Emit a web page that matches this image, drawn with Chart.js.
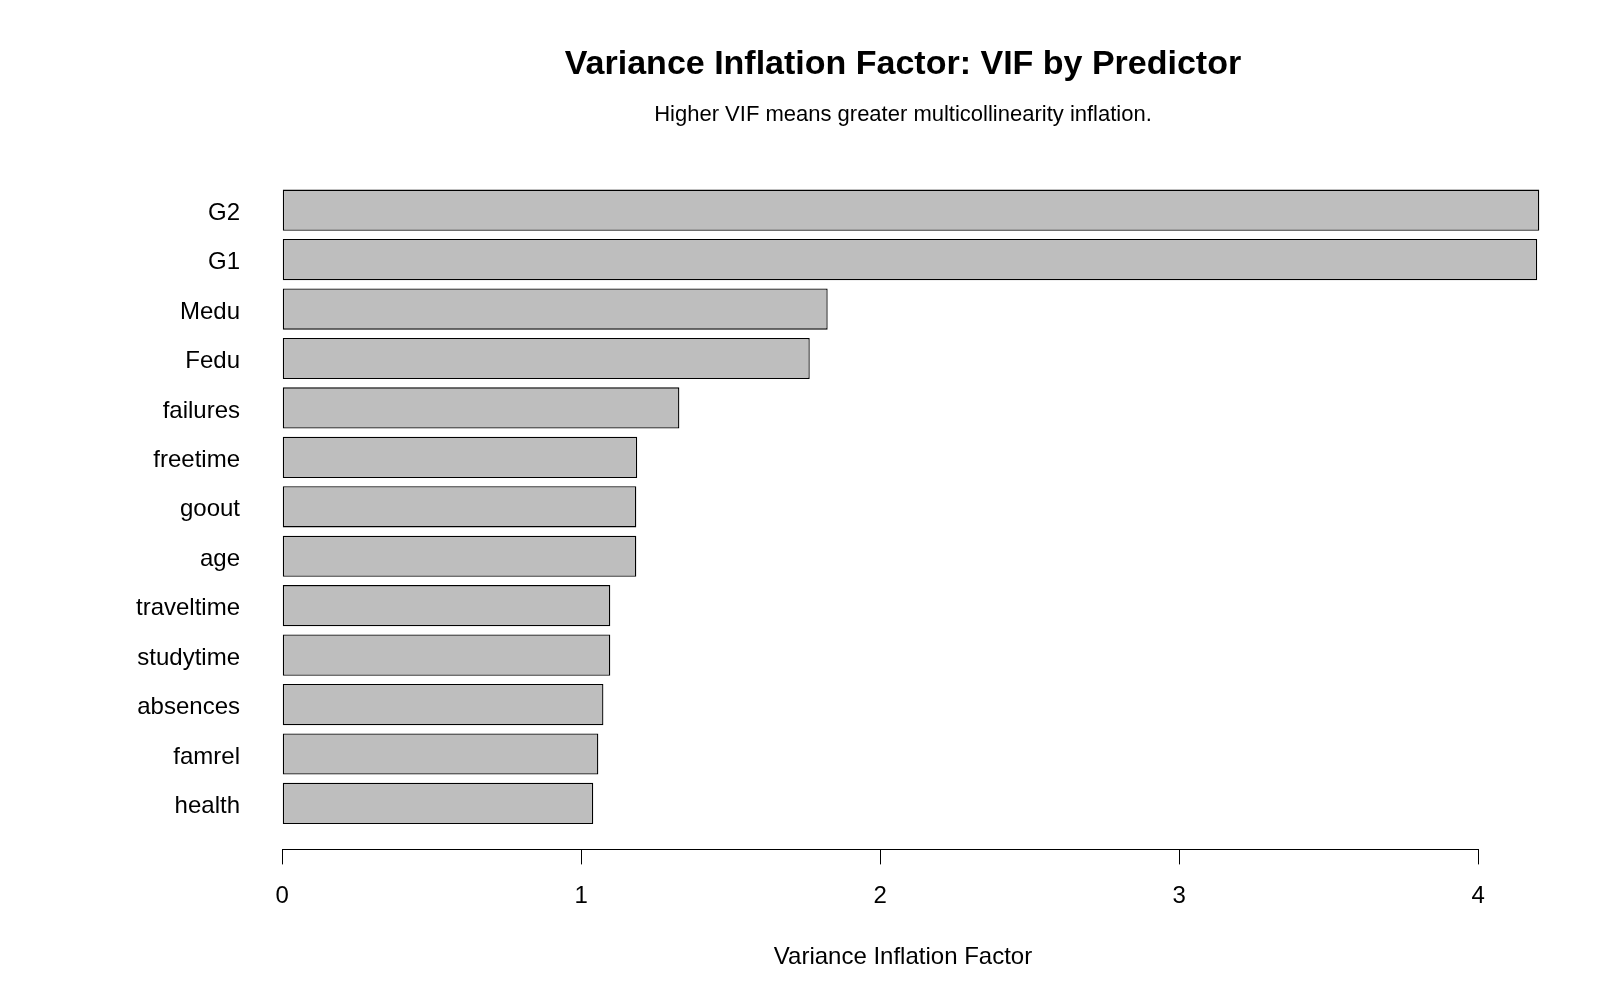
<!DOCTYPE html>
<html>
<head>
<meta charset="utf-8">
<title>VIF by Predictor</title>
<script src="https://cdn.jsdelivr.net/npm/chart.js@4.4.1/dist/chart.umd.min.js"></script>
<style>
    body { margin: 0; background: #fff; }
    #wrap { width: 1600px; height: 1000px; }
</style>
</head>
<body>
<div id="wrap"><canvas id="vif-chart"></canvas></div>
<script>
const predictors = ['G2', 'G1', 'Medu', 'Fedu', 'failures', 'freetime', 'goout', 'age', 'traveltime', 'studytime', 'absences', 'famrel', 'health'];
const vifValues = [4.204, 4.197, 1.824, 1.764, 1.328, 1.187, 1.184, 1.184, 1.097, 1.097, 1.074, 1.057, 1.040];
const xTicks = [0, 1, 2, 3, 4];

Chart.defaults.font.family = "'Liberation Sans', Arial, sans-serif";
Chart.defaults.color = '#000';

// R style axis: the line only runs from the first to the last tick
let axisLine = {
    id: 'axisLine',
    afterDraw: (chart) => {
        let x = chart.scales.x;
        let ctx = chart.ctx;
        ctx.save();
        ctx.strokeStyle = '#000';
        ctx.lineWidth = 1;
        ctx.beginPath();
        ctx.moveTo(x.getPixelForValue(xTicks[0]), Math.round(x.top) + 0.5);
        ctx.lineTo(x.getPixelForValue(xTicks[xTicks.length - 1]), Math.round(x.top) + 0.5);
        ctx.stroke();
        ctx.restore();
    }
};

let vifChart = new Chart(document.getElementById('vif-chart'), {
    type: 'bar',
    data: {
        datasets: [{
            data: vifValues.map((v, i) => ({ x: v, y: i })),
            backgroundColor: '#bebebe',
            borderColor: '#000',
            borderWidth: 1.3,
            borderSkipped: false,
            categoryPercentage: 1,
            barPercentage: 0.8333
        }]
    },
    options: {
        indexAxis: 'y',
        responsive: true,
        maintainAspectRatio: false,
        animation: false,
        layout: {
            padding: { top: 22, left: 0, right: 39, bottom: 20 }
        },
        plugins: {
            legend: { display: false },
            tooltip: { enabled: false },
            title: {
                display: true,
                fullSize: false,
                text: 'Variance Inflation Factor: VIF by Predictor',
                font: { size: 34, weight: 'bold' },
                padding: { top: 22, bottom: 0 }
            },
            subtitle: {
                display: true,
                fullSize: false,
                text: 'Higher VIF means greater multicollinearity inflation.',
                font: { size: 22 },
                padding: { top: 17, bottom: 36 }
            }
        },
        scales: {
            x: {
                type: 'linear',
                min: -0.1247,
                max: 4.2766,
                afterBuildTicks: (scale) => {
                    scale.ticks = xTicks.map(v => ({ value: v }));
                },
                border: { display: false },
                grid: {
                    drawOnChartArea: false,
                    color: '#000',
                    tickLength: 15
                },
                ticks: {
                    font: { size: 24 },
                    padding: 18
                },
                title: {
                    display: true,
                    text: 'Variance Inflation Factor',
                    font: { size: 24 },
                    padding: { top: 14, bottom: 8 }
                }
            },
            y: {
                type: 'linear',
                reverse: true,
                offset: false,
                min: -0.93,
                max: 12.93,
                afterBuildTicks: (scale) => {
                    scale.ticks = predictors.map((p, i) => ({ value: i }));
                },
                afterFit: (scale) => {
                    scale.width = 245;
                },
                border: { display: false },
                grid: { display: false, drawTicks: false },
                ticks: {
                    font: { size: 24 },
                    padding: 5,
                    labelOffset: 3,
                    callback: (v) => predictors[v]
                }
            }
        }
    },
    plugins: [axisLine]
});
</script>
</body>
</html>
